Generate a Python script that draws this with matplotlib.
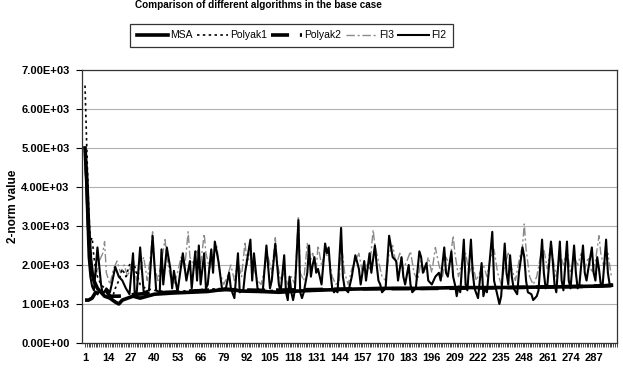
import matplotlib
matplotlib.use("Agg")
import matplotlib.pyplot as plt
from matplotlib.ticker import FuncFormatter, MultipleLocator

plt.rcParams['font.family'] = ['Liberation Sans', 'DejaVu Sans']

# Data (category index, 2-norm value)
msa_x = [1, 2, 3, 4, 5, 6, 8, 10, 12, 15, 18, 20, 22, 25, 28, 32, 36, 40, 50, 60, 70, 80,
         90, 100, 110, 120, 130, 150, 170, 190, 210, 230, 250, 270, 290, 297]
msa_y = [5000, 4200, 3000, 2200, 1800, 1600, 1400, 1300, 1200, 1150, 1050, 1000, 1100, 1150,
         1200, 1150, 1200, 1250, 1280, 1300, 1320, 1380, 1330, 1320, 1300, 1330, 1350, 1380,
         1400, 1400, 1420, 1420, 1430, 1440, 1460, 1480]

polyak1_x = [1, 2, 3, 4, 5, 6, 7, 8, 10, 12, 14, 16, 18, 20, 22, 24, 26, 28, 30, 32, 35, 40,
             50, 60, 70, 80, 90, 100, 120, 140, 160, 180, 200, 220, 240, 260, 280, 297]
polyak1_y = [6600, 5000, 3500, 2600, 2700, 2200, 1900, 1700, 1500, 1400, 1300, 1100, 1400,
             1600, 1900, 1700, 2000, 2100, 1800, 1500, 1400, 1350, 1300, 1350, 1380, 1400,
             1350, 1340, 1360, 1380, 1390, 1400, 1410, 1420, 1430, 1440, 1450, 1470]

polyak2_x = [1, 3, 5, 7, 9, 12, 15, 20, 30, 40, 60, 80, 100, 130, 160, 200, 240, 280, 297]
polyak2_y = [1100, 1100, 1150, 1300, 1250, 1400, 1200, 1200, 1250, 1280, 1330, 1370, 1350,
             1370, 1390, 1400, 1420, 1450, 1470]

fi3_x = [1, 2, 3, 4, 5, 7, 9, 11, 12, 13, 15, 17, 19, 21, 23, 25, 27, 28, 30, 32, 34, 36, 38,
         39, 40, 42, 44, 46, 47, 49, 51, 53, 55, 57, 59, 60, 62, 64, 66, 68, 69, 71, 73, 75,
         77, 79, 81, 83, 85, 87, 89, 91, 92, 94, 96, 98, 100, 102, 104, 106, 108, 109, 111,
         113, 115, 117, 119, 121, 122, 124, 126, 127, 129, 131, 132, 134, 136, 138, 140, 142,
         144, 145, 147, 149, 151, 153, 155, 157, 159, 161, 163, 164, 166, 168, 170, 172, 174,
         176, 178, 180, 182, 184, 186, 188, 190, 192, 194, 196, 198, 200, 202, 204, 206, 208,
         209, 211, 213, 215, 217, 219, 221, 223, 225, 227, 229, 231, 233, 235, 237, 239, 241,
         243, 245, 247, 248, 249, 251, 253, 255, 257, 259, 261, 263, 264, 266, 268, 270, 272,
         274, 276, 278, 280, 282, 284, 286, 288, 290, 291, 293, 295, 297]
fi3_y = [4500, 3800, 2800, 2100, 1800, 1700, 2100, 2300, 2600, 1800, 1500, 1900, 2100, 1800,
         2000, 1700, 2000, 2200, 1600, 1900, 2200, 1600, 2300, 2850, 2000, 1600, 2100, 2650,
         2200, 1700, 1500, 1800, 2200, 1900, 2850, 2200, 2000, 2400, 2000, 2800, 2300, 1900,
         2200, 2500, 1800, 1500, 1700, 2000, 1600, 2100, 1700, 2600, 2000, 2300, 1900, 1600,
         1500, 1900, 2200, 1800, 2700, 2100, 1600, 1800, 1500, 1700, 1500, 3250, 1800, 1600,
         2550, 2000, 2300, 1900, 2500, 2000, 2300, 2200, 1700, 1500, 1600, 2600, 1800, 1500,
         1900, 2100, 2300, 1800, 2000, 1900, 2900, 2500, 2100, 1700, 1600, 2300, 2500, 2000,
         2300, 1900, 2100, 2350, 1800, 1600, 2100, 1800, 2200, 1800, 2450, 2000, 1700, 2200,
         2000, 2750, 2300, 1700, 2100, 2300, 1800, 2000, 1600, 1800, 2000, 1700, 2200, 2400,
         1800, 1500, 2000, 2300, 1900, 1600, 2100, 2500, 3050, 2400, 1700, 1500, 1700, 2200,
         2400, 1900, 2600, 2200, 1700, 2300, 2000, 2400, 1800, 2200, 2000, 2300, 1900, 2200,
         1800, 2100, 2750, 2300, 1900, 2300, 1700]

fi2_x = [1, 2, 3, 4, 5, 6, 8, 10, 11, 13, 15, 16, 18, 20, 22, 24, 26, 28, 29, 30, 32, 34, 37,
         39, 41, 43, 44, 45, 47, 49, 50, 51, 53, 56, 58, 60, 61, 63, 64, 65, 66, 68, 69, 70,
         72, 73, 74, 76, 78, 80, 82, 83, 85, 87, 88, 90, 91, 94, 95, 96, 98, 100, 101, 103,
         105, 106, 108, 110, 111, 113, 114, 115, 116, 117, 118, 119, 121, 122, 123, 124, 126,
         127, 128, 129, 130, 131, 132, 134, 136, 137, 138, 139, 140, 141, 142, 143, 145, 146,
         147, 149, 151, 153, 155, 156, 158, 159, 161, 162, 164, 165, 166, 167, 168, 170, 172,
         174, 176, 177, 179, 180, 181, 183, 184, 185, 187, 189, 190, 191, 193, 194, 196, 198,
         200, 201, 203, 204, 205, 207, 208, 209, 210, 211, 212, 214, 215, 216, 218, 219, 220,
         222, 224, 225, 226, 227, 230, 231, 232, 233, 234, 235, 237, 238, 239, 240, 241, 242,
         244, 245, 247, 248, 249, 250, 252, 253, 255, 256, 258, 259, 260, 261, 263, 264, 265,
         266, 268, 269, 270, 272, 273, 274, 276, 277, 278, 279, 281, 282, 283, 284, 286, 287,
         288, 289, 290, 291, 292, 294, 295, 296, 297]
fi2_y = [4900, 3500, 2200, 1700, 1450, 1350, 2450, 1500, 1250, 1400, 1300, 1500, 1950, 1700,
         1600, 1400, 1250, 2300, 1200, 1250, 2450, 1300, 1350, 2750, 1350, 1300, 2400, 1500,
         2450, 1900, 1400, 1850, 1300, 2300, 1600, 2100, 1400, 2350, 1600, 2500, 1500, 2300,
         1400, 1500, 2400, 1800, 2600, 2100, 1400, 1350, 1800, 1400, 1150, 2300, 1300, 1350,
         1800, 2650, 1600, 2300, 1400, 1300, 1350, 2500, 1400, 1600, 2550, 1500, 1300, 2250,
         1300, 1100, 1700, 1300, 1100, 1350, 3150, 1300, 1150, 1300, 1800, 2500, 1700, 2000,
         2200, 1800, 1900, 1500, 2550, 2300, 2450, 1800, 1400, 1300, 1350, 1300, 2950, 1700,
         1400, 1300, 1700, 2250, 1900, 1500, 2100, 1600, 2300, 1800, 2500, 2000, 1600, 1500,
         1300, 1400, 2750, 2200, 2100, 1600, 2200, 1700, 1500, 2000, 1500, 1300, 1400, 2350,
         2200, 1800, 2050, 1600, 1500, 1700, 1800, 1600, 2450, 1800, 1700, 2350, 1700, 1500,
         1200, 1450, 1300, 2650, 1500, 1350, 2650, 1800, 1400, 1150, 2050, 1200, 1400, 1300,
         2850, 1600, 1400, 1200, 1000, 1200, 2550, 1800, 1500, 2250, 1700, 1400, 1250, 1800,
         2450, 2200, 1600, 1300, 1250, 1100, 1200, 1350, 2650, 1800, 1400, 1500, 2600, 2100,
         1500, 1300, 2600, 1600, 1350, 2600, 1600, 1400, 2500, 1800, 1400, 1500, 2500, 1800,
         1600, 1900, 2450, 1800, 1600, 2200, 1900, 1500, 1450, 2650, 1800, 1500, 1500]

n_categories = 300
tick_labels = list(range(1, n_categories, 13))

fig = plt.figure(figsize=(6.23, 3.72), dpi=100)
ax = fig.add_axes([0.1316, 0.078, 0.8584, 0.734])

ax.plot(fi3_x, fi3_y, color='#8a8a8a', lw=1.0, dashes=(6, 2, 1.5, 2), label='FI3', zorder=2)
ax.plot(polyak1_x, polyak1_y, color='black', lw=1.2, dashes=(1.5, 2), label='Polyak1', zorder=3)
ax.plot(fi2_x, fi2_y, color='black', lw=1.5, label='FI2', zorder=4)
ax.plot(polyak2_x, polyak2_y, color='black', lw=2.6, dashes=(5, 3), label='Polyak2', zorder=5)
ax.plot(msa_x, msa_y, color='black', lw=2.6, label='MSA', zorder=6)

ax.set_ylim(0, 7000)
ax.set_xlim(-0.7, 298.2)
ax.yaxis.set_major_locator(MultipleLocator(1000))
ax.yaxis.set_major_formatter(FuncFormatter(lambda v, p: f"{v:.2E}"))
ax.grid(axis='y', color='#b0b0b0', lw=0.8)
ax.set_axisbelow(True)

ax.set_xticks(tick_labels)
ax.set_xticklabels([str(t) for t in tick_labels])
ax.set_xticks(range(1, n_categories + 1), minor=True)
ax.tick_params(axis='x', which='both', length=3, width=0.5, pad=4)
ax.tick_params(axis='y', length=4, width=0.8, pad=5)
for lab in ax.get_xticklabels() + ax.get_yticklabels():
    lab.set_fontsize(8)
    lab.set_fontweight('bold')

for s in ax.spines.values():
    s.set_linewidth(0.9)
    s.set_color('#333333')

ax.set_ylabel('2-norm value', fontsize=8.5, fontweight='bold')
ax.yaxis.set_label_coords(-0.118, 0.5)

fig.text(258 / 623, 1 - 5 / 372, 'Comparison of different algorithms in the base case',
         ha='center', va='center', fontsize=7.2, fontweight='bold')

handles, labels = ax.get_legend_handles_labels()
order = ['MSA', 'Polyak1', 'Polyak2', 'FI3', 'FI2']
hmap = dict(zip(labels, handles))
leg = fig.legend([hmap[k] for k in order], order, loc='center',
                 bbox_to_anchor=(291.5 / 623, 1 - 35.5 / 372), ncol=5, fontsize=7.5,
                 frameon=True, fancybox=False, edgecolor='black', handlelength=3.0,
                 handletextpad=0.2, columnspacing=0.4, borderpad=0.6, borderaxespad=0)
leg.get_frame().set_linewidth(0.9)

fig.savefig('out.png', dpi=100)
